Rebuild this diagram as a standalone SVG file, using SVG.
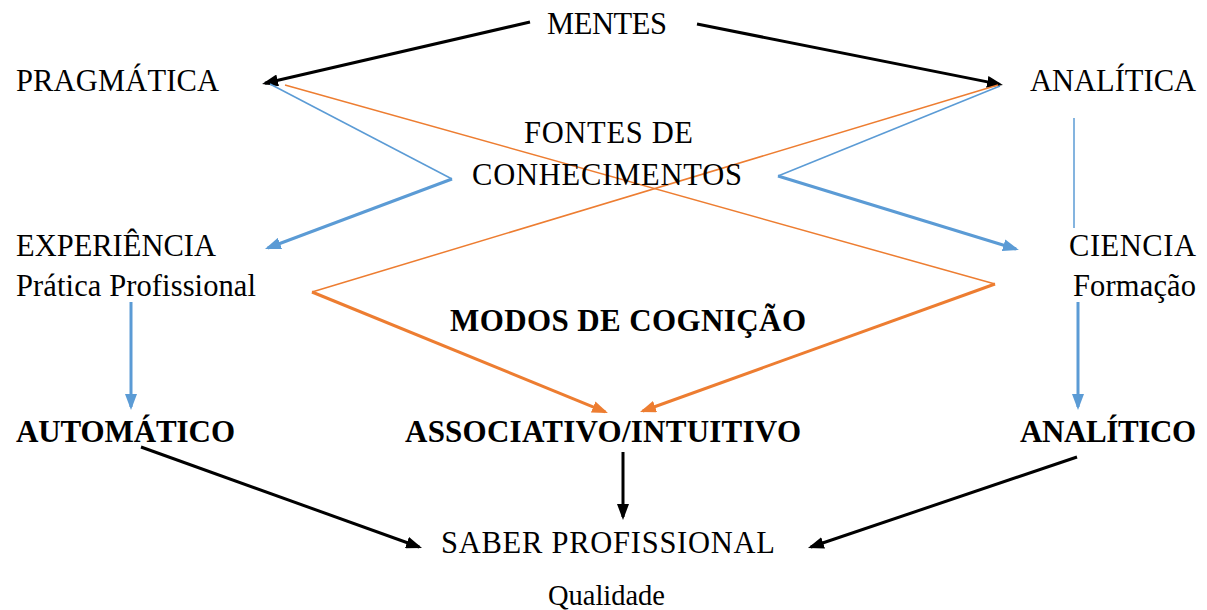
<svg xmlns="http://www.w3.org/2000/svg" width="1207" height="610" viewBox="0 0 1207 610">
<style>
text{font-family:"Liberation Serif","Times New Roman",serif;font-size:30.5px;fill:#000}
.b{font-weight:bold;font-size:31px}
.k{stroke:#000;stroke-width:3;fill:none}
.bt{stroke:#5B9BD5;stroke-width:1.5;fill:none}
.bT{stroke:#5B9BD5;stroke-width:3;fill:none}
.ot{stroke:#ED7D31;stroke-width:1.5;fill:none}
.oT{stroke:#ED7D31;stroke-width:3;fill:none}
</style>
<defs>
<marker id="ak" viewBox="0 0 16 12" markerWidth="16" markerHeight="12" refX="13" refY="6" orient="auto" markerUnits="userSpaceOnUse"><path d="M0,0 L16,6 L0,12 z" fill="#000"/></marker>
<marker id="ab" viewBox="0 0 16 12" markerWidth="16" markerHeight="12" refX="13" refY="6" orient="auto" markerUnits="userSpaceOnUse"><path d="M0,0 L16,6 L0,12 z" fill="#5B9BD5"/></marker>
<marker id="ao" viewBox="0 0 16 12" markerWidth="16" markerHeight="12" refX="13" refY="6" orient="auto" markerUnits="userSpaceOnUse"><path d="M0,0 L16,6 L0,12 z" fill="#ED7D31"/></marker>
</defs>
<g id="connectors">
<line class="k" x1="530" y1="22" x2="265" y2="83.3" marker-end="url(#ak)"/>
<line class="k" x1="697" y1="24" x2="1000" y2="84.4" marker-end="url(#ak)"/>
<line class="k" x1="141" y1="447" x2="419.2" y2="547" marker-end="url(#ak)"/>
<line class="k" x1="1077" y1="457" x2="810.8" y2="547" marker-end="url(#ak)"/>
<line class="k" x1="623" y1="452" x2="623" y2="517" marker-end="url(#ak)"/>
<polyline class="bt" points="270,84 452,179"/>
<line class="bT" x1="452" y1="179" x2="267.8" y2="248" marker-end="url(#ab)"/>
<polyline class="bt" points="1000,86 778,176"/>
<line class="bT" x1="778" y1="176" x2="1016" y2="249" marker-end="url(#ab)"/>
<line class="bt" x1="1074" y1="118" x2="1074" y2="228"/>
<line class="bT" x1="131" y1="302" x2="131" y2="407" marker-end="url(#ab)"/>
<line class="bT" x1="1078" y1="302" x2="1078" y2="407" marker-end="url(#ab)"/>
<polyline class="ot" points="285,85 995,284"/>
<line class="oT" x1="995" y1="284" x2="642.8" y2="411" marker-end="url(#ao)"/>
<polyline class="ot" points="998,85 312,292"/>
<line class="oT" x1="312" y1="292" x2="605.2" y2="411.9" marker-end="url(#ao)"/>
</g>
<g id="mentes"><text x="547" y="34" textLength="120">MENTES</text></g>
<g id="pragmatica"><text x="16" y="91" textLength="203">PRAGMÁTICA</text></g>
<g id="analitica"><text x="1030" y="91" textLength="166">ANALÍTICA</text></g>
<g id="fontes"><text x="524" y="143" textLength="169">FONTES DE</text><text x="472" y="185" textLength="270">CONHECIMENTOS</text></g>
<g id="experiencia"><text x="16" y="256" textLength="200">EXPERIÊNCIA</text><text x="16" y="296" textLength="240">Prática Profissional</text></g>
<g id="ciencia"><text x="1069" y="256" textLength="127">CIENCIA</text><text x="1073" y="296" textLength="123">Formação</text></g>
<g id="modos"><text class="b" x="450" y="331" textLength="356">MODOS DE COGNIÇÃO</text></g>
<g id="automatico"><text class="b" x="16" y="442" textLength="219">AUTOMÁTICO</text></g>
<g id="associativo"><text class="b" x="405" y="442" textLength="396">ASSOCIATIVO/INTUITIVO</text></g>
<g id="analitico"><text class="b" x="1020" y="442" textLength="176">ANALÍTICO</text></g>
<g id="saber"><text x="441" y="553" textLength="334">SABER PROFISSIONAL</text></g>
<g id="qualidade"><text x="548" y="605" textLength="117" style="font-size:28.5px">Qualidade</text></g>
</svg>
